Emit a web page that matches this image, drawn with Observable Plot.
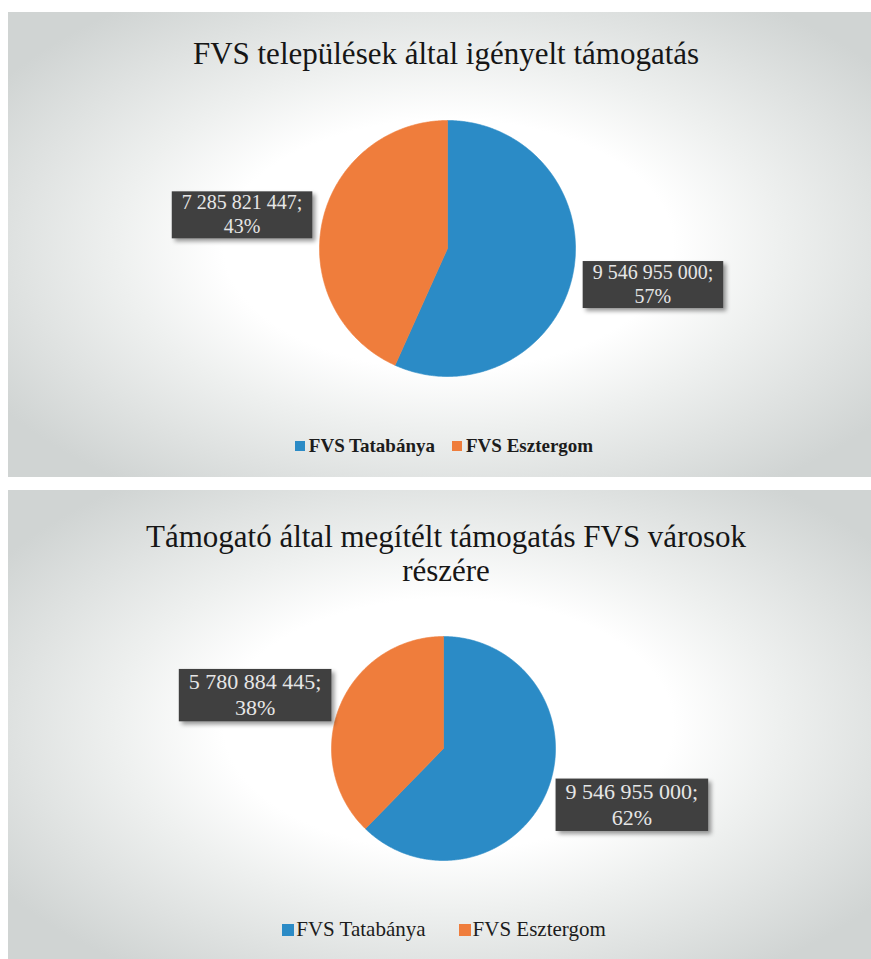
<!DOCTYPE html>
<html>
<head>
<meta charset="utf-8">
<script src="https://cdn.jsdelivr.net/npm/d3@7"></script>
<script src="https://cdn.jsdelivr.net/npm/@observablehq/plot@0.6"></script>
<style>
  html, body { margin: 0; padding: 0; background: #ffffff; }
  body { width: 871px; height: 959px; position: relative; overflow: hidden;
         font-family: "Liberation Serif", "DejaVu Serif", serif; }
  .panel { position: absolute; left: 8px; width: 863px;
           background: radial-gradient(ellipse 62% 64% at 51% 50%, #ffffff 42%, #eef0ef 62%, #d0d4d3 100%); }
  .title { position: absolute; text-align: center; color: #161616; font-weight: normal; margin: 0;
           font-family: "Liberation Serif", "DejaVu Serif", serif; }
  .legend { position: absolute; left: 0; width: 888px; display: flex; justify-content: center; align-items: center; color: #1c1c1c;
            font-family: "Liberation Serif", "DejaVu Serif", serif; }
  .legend .item { display: flex; align-items: center; }
  .legend .sw { display: inline-block; }
  .chart { position: absolute; left: 0; }
  .pielabel text { font-family: "Liberation Serif", "DejaVu Serif", serif; }
</style>
</head>
<body>
<div class="panel" style="top:12px;height:465px;"></div>
<div class="panel" style="top:490px;height:469px;"></div>
<div id="root"></div>
<script>
// ---- data ----
const categories = ["FVS Tatabánya", "FVS Esztergom"];
const colors = ["#2b8bc6", "#ef7d3c"];
const requestedValues = [9546955000, 7285821447];
const awardedValues = [9546955000, 5780884445];
const titles = [
  "FVS települések által igényelt támogatás",
  "Támogató által megítélt támogatás FVS városok részére"
];

const W = 871;
const SERIF = "Liberation Serif, DejaVu Serif, serif";
const root = document.getElementById("root");

const fmt = v => String(v).replace(/\B(?=(\d{3})+(?!\d))/g, " ");

function addTitle(text, top, fontSize, width, lineHeight) {
  const t = document.createElement("div");
  t.className = "title";
  t.textContent = text;
  t.style.top = top + "px";
  t.style.fontSize = fontSize + "px";
  t.style.lineHeight = lineHeight + "px";
  t.style.width = width + "px";
  t.style.left = (446 - width / 2) + "px";
  root.appendChild(t);
}

function addLegend(top, fontSize, bold, sw, swGap, itemGap) {
  const lg = document.createElement("div");
  lg.className = "legend";
  lg.style.top = top + "px";
  lg.style.fontSize = fontSize + "px";
  lg.style.fontWeight = bold ? "bold" : "normal";
  lg.style.gap = itemGap + "px";
  categories.forEach((c, i) => {
    const it = document.createElement("span");
    it.className = "item";
    const s = document.createElement("span");
    s.className = "sw";
    s.style.width = sw + "px";
    s.style.height = sw + "px";
    s.style.background = colors[i];
    s.style.marginRight = swGap + "px";
    const tx = document.createElement("span");
    tx.textContent = c;
    it.appendChild(s);
    it.appendChild(tx);
    lg.appendChild(it);
  });
  root.appendChild(lg);
}

function addPie(values, opt) {
  const {cx, cy, r, top, H, fontSize, id} = opt;
  const rows = categories.map((name, i) => ({name, value: values[i]}));
  const total = d3.sum(values);
  const arcs = d3.pie().sort(null).value(d => d.value)(rows);
  const pts = [];
  const labels = [];
  for (const a of arcs) {
    const n = Math.max(2, Math.ceil((a.endAngle - a.startAngle) / (Math.PI / 360)));
    pts.push({name: a.data.name, x: 0, y: 0});
    for (let k = 0; k <= n; k++) {
      const t = a.startAngle + (a.endAngle - a.startAngle) * k / n;
      pts.push({name: a.data.name, x: r * Math.sin(t), y: r * Math.cos(t)});
    }
    pts.push({name: a.data.name, x: 0, y: 0});
    const mid = (a.startAngle + a.endAngle) / 2;
    labels.push({
      name: a.data.name,
      x: r * 1.08 * Math.sin(mid),
      y: r * 1.3 * Math.cos(mid),
      side: Math.sin(mid) < 0 ? "left" : "right",
      text: fmt(a.data.value) + ";\n" + Math.round(a.data.value / total * 100) + "%"
    });
  }
  const textOpts = {
    x: "x", y: "y", text: "text", fill: "#e6e6e6", fontSize,
    fontFamily: SERIF,
    lineAnchor: "middle", lineHeight: 1.2, className: "pielabel"
  };
  const plot = Plot.plot({
    width: W, height: H, margin: 0,
    style: {background: "transparent", overflow: "visible", fontFamily: SERIF},
    x: {domain: [-cx, W - cx], axis: null},
    y: {domain: [cy - top - H, cy - top], axis: null},
    color: {domain: categories, range: colors},
    marks: [
      Plot.line(pts, {x: "x", y: "y", z: "name", fill: "name", stroke: "name", strokeWidth: 0.6, curve: "linear"}),
      Plot.text(labels.filter(d => d.side === "left"), {...textOpts, textAnchor: "end", dx: -10}),
      Plot.text(labels.filter(d => d.side === "right"), {...textOpts, textAnchor: "start", dx: 10})
    ]
  });
  const holder = document.createElement("div");
  holder.className = "chart";
  holder.style.top = top + "px";
  holder.appendChild(plot);
  root.appendChild(holder);

  // dark label boxes behind texts, lines centred inside the box
  const ns = "http://www.w3.org/2000/svg";
  const defs = document.createElementNS(ns, "defs");
  defs.innerHTML = `<filter id="sh${id}" x="-20%" y="-30%" width="150%" height="180%"><feDropShadow dx="3" dy="3" stdDeviation="2.2" flood-color="#000" flood-opacity="0.4"/></filter>`;
  plot.insertBefore(defs, plot.firstChild);
  plot.querySelectorAll(".pielabel text").forEach(t => {
    t.style.fontFamily = SERIF;
    const b0 = t.getBBox();
    const mx = b0.x + b0.width / 2;
    t.setAttribute("text-anchor", "middle");
    t.style.textAnchor = "middle";
    const spans = t.querySelectorAll("tspan");
    if (spans.length) spans.forEach(s => s.setAttribute("x", mx));
    else t.setAttribute("x", mx);
    const b = t.getBBox();
    const rect = document.createElementNS(ns, "rect");
    rect.setAttribute("x", b.x - 10);
    rect.setAttribute("y", b.y);
    rect.setAttribute("width", b.width + 20);
    rect.setAttribute("height", b.height + 1);
    rect.setAttribute("fill", "#404040");
    rect.setAttribute("filter", `url(#sh${id})`);
    const tr = t.getAttribute("transform");
    if (tr) rect.setAttribute("transform", tr);
    t.parentNode.insertBefore(rect, t);
  });
}

addTitle(titles[0], 36, 31, 700, 36);
addPie(requestedValues, {cx: 447, cy: 248, r: 128, top: 100, H: 300, fontSize: 20, id: 1});
addLegend(435, 19, true, 10, 4, 17);

addTitle(titles[1], 520, 31, 620, 34);
addPie(awardedValues, {cx: 443, cy: 748, r: 112, top: 620, H: 260, fontSize: 22, id: 2});
addLegend(917, 21, false, 12, 2, 33);
</script>
</body>
</html>
